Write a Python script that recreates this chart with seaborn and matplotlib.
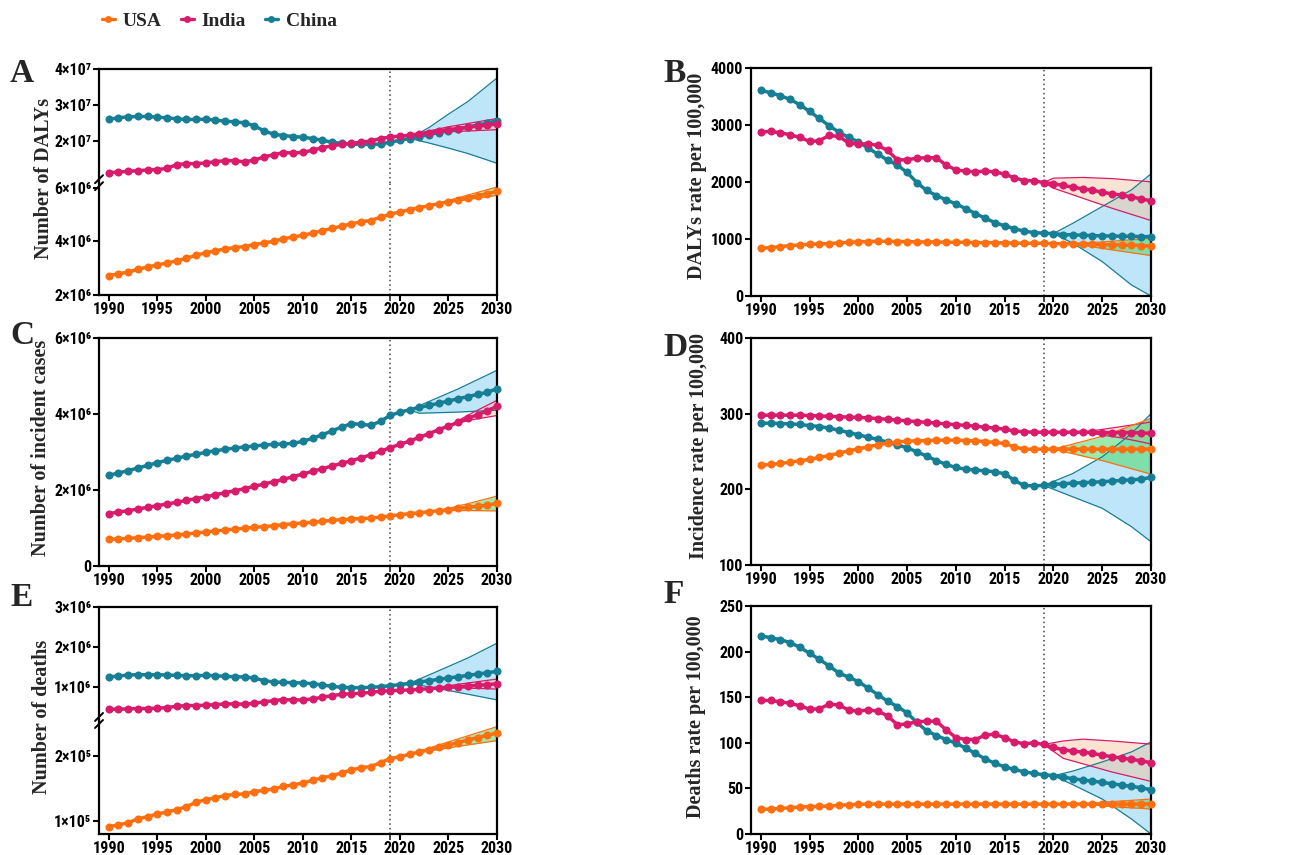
import numpy as np
import pandas as pd
import matplotlib
matplotlib.use("Agg")
import matplotlib.pyplot as plt
import matplotlib.font_manager as fm
import seaborn as sns
from matplotlib.lines import Line2D

sns.set_style("ticks")

_avail = {f.name for f in fm.fontManager.ttflist}
TICKFONT, TICKSIZE = "Liberation Sans", 10.5
for _cand in ["Liberation Sans Narrow", "Arial Narrow", "Roboto Condensed", "Open Sans Condensed"]:
    if _cand in _avail:
        TICKFONT, TICKSIZE = _cand, 11.5
        break
plt.rcParams["font.family"] = [TICKFONT, "Liberation Sans", "DejaVu Sans"]
plt.rcParams["font.weight"] = "bold"

SERIF = ["Liberation Serif", "DejaVu Serif"]

years = list(range(1990, 2031))
order = ["China", "India", "USA"]
legend_order = ["USA", "India", "China"]
colors = {"USA": "#FF6F0F", "India": "#D81B6A", "China": "#167E95"}
band_fill = {"USA": "#4CD96A", "India": "#F6C29C", "China": "#7FCFF2"}
band_alpha = {"USA": 0.55, "India": 0.45, "China": 0.5}

# ---------------- A: Number of DALYs ----------------
A_usa = [2.724, 2.785, 2.859, 2.957, 3.043, 3.117, 3.190, 3.276, 3.362, 3.485,
         3.571, 3.644, 3.718, 3.767, 3.804, 3.877, 3.939, 4.000, 4.098, 4.160,
         4.221, 4.307, 4.393, 4.479, 4.564, 4.650, 4.724, 4.773, 4.896, 5.006,
         5.092, 5.178, 5.252, 5.325, 5.399, 5.472, 5.546, 5.620, 5.693, 5.767, 5.865]  # x1e6
A_india = [1.130, 1.148, 1.167, 1.185, 1.204, 1.213, 1.250, 1.352, 1.380, 1.380,
           1.398, 1.435, 1.463, 1.463, 1.426, 1.481, 1.565, 1.630, 1.685, 1.676,
           1.694, 1.750, 1.824, 1.870, 1.917, 1.944, 1.972, 2.009, 2.074, 2.120,
           2.139, 2.167, 2.204, 2.241, 2.287, 2.324, 2.352, 2.389, 2.417, 2.444, 2.481]  # x1e7
A_china = [2.611, 2.648, 2.676, 2.685, 2.685, 2.667, 2.648, 2.620, 2.602, 2.602,
           2.611, 2.583, 2.556, 2.537, 2.509, 2.426, 2.287, 2.194, 2.157, 2.130,
           2.111, 2.074, 2.028, 1.972, 1.944, 1.917, 1.917, 1.907, 1.926, 1.972,
           2.028, 2.074, 2.130, 2.185, 2.241, 2.287, 2.333, 2.398, 2.444, 2.500, 2.574]  # x1e7
A_band = {
    "China": ([2021, 2023, 2025, 2027, 2030], [2.08e7, 1.95e7, 1.81e7, 1.66e7, 1.39e7],
              [2.08e7, 2.38e7, 2.75e7, 3.10e7, 3.75e7]),
    "India": ([2021, 2025, 2030], [2.17e7, 2.26e7, 2.32e7], [2.17e7, 2.40e7, 2.63e7]),
    "USA": ([2023, 2026, 2030], [5.33e6, 5.50e6, 5.71e6], [5.33e6, 5.62e6, 6.02e6]),
}

# ---------------- B: DALYs rate ----------------
B_china = [3608, 3567, 3514, 3449, 3356, 3239, 3116, 2987, 2876, 2782,
           2706, 2594, 2489, 2384, 2296, 2167, 1991, 1851, 1763, 1687,
           1616, 1534, 1447, 1365, 1288, 1230, 1183, 1136, 1113, 1101,
           1095, 1078, 1072, 1066, 1060, 1054, 1054, 1048, 1048, 1042, 1042]
B_india = [2876, 2887, 2864, 2829, 2782, 2712, 2723, 2817, 2799, 2688,
           2665, 2671, 2641, 2553, 2389, 2389, 2419, 2425, 2425, 2296,
           2214, 2190, 2179, 2190, 2179, 2138, 2073, 2026, 2020, 1991,
           1968, 1939, 1909, 1880, 1857, 1821, 1792, 1769, 1739, 1704, 1669]
B_usa = [837, 849, 867, 884, 896, 908, 914, 919, 931, 943,
         949, 955, 960, 960, 955, 955, 949, 949, 949, 943,
         943, 943, 937, 937, 937, 931, 931, 925, 925, 925,
         919, 919, 914, 908, 908, 902, 896, 896, 890, 884, 878]
B_band = {
    "China": ([2020, 2022, 2025, 2028, 2030], [1095, 925, 603, 193, 0], [1095, 1277, 1570, 1862, 2143]),
    "India": ([2019, 2020, 2023, 2026, 2030], [1991, 1892, 1716, 1540, 1324], [1991, 2067, 2080, 2060, 2003]),
    "USA": ([2022, 2026, 2030], [914, 810, 709], [914, 960, 1013]),
}

# ---------------- C: Number of incident cases ----------------
C_china = [2.386, 2.447, 2.509, 2.579, 2.649, 2.719, 2.781, 2.833, 2.895, 2.939,
           2.991, 3.035, 3.070, 3.105, 3.132, 3.158, 3.184, 3.202, 3.211, 3.228,
           3.281, 3.360, 3.456, 3.553, 3.658, 3.746, 3.728, 3.702, 3.807, 3.965,
           4.044, 4.114, 4.175, 4.228, 4.281, 4.342, 4.404, 4.456, 4.518, 4.570, 4.667]
C_india = [1.377, 1.421, 1.456, 1.500, 1.544, 1.588, 1.632, 1.675, 1.728, 1.772,
           1.825, 1.877, 1.930, 1.982, 2.035, 2.096, 2.158, 2.219, 2.281, 2.351,
           2.421, 2.491, 2.561, 2.632, 2.702, 2.772, 2.842, 2.930, 3.018, 3.114,
           3.202, 3.289, 3.386, 3.482, 3.588, 3.684, 3.781, 3.886, 3.982, 4.088, 4.202]
C_usa = [0.702, 0.711, 0.728, 0.746, 0.763, 0.781, 0.798, 0.816, 0.842, 0.868,
         0.895, 0.921, 0.947, 0.974, 0.991, 1.018, 1.035, 1.061, 1.088, 1.114,
         1.132, 1.149, 1.175, 1.202, 1.219, 1.237, 1.246, 1.263, 1.289, 1.316,
         1.351, 1.377, 1.404, 1.430, 1.456, 1.482, 1.518, 1.544, 1.570, 1.605, 1.649]  # x1e6
C_band = {
    "China": ([2021, 2022, 2026, 2030], [4.11e6, 4.02e6, 4.05e6, 4.10e6], [4.11e6, 4.22e6, 4.66e6, 5.15e6]),
    "India": ([2025, 2027, 2030], [3.68e6, 3.83e6, 3.96e6], [3.68e6, 3.97e6, 4.36e6]),
    "USA": ([2024, 2027, 2030], [1.456e6, 1.46e6, 1.45e6], [1.456e6, 1.64e6, 1.84e6]),
}

# ---------------- D: Incidence rate ----------------
D_india = [298, 298, 298, 298, 298, 297.5, 297, 296.5, 296, 295.5,
           295, 294.5, 293.5, 292.5, 291.5, 290.5, 289.5, 288.5, 287.5, 286.5,
           285.5, 284.5, 283.5, 282, 281, 279.5, 277, 276, 275.5, 275.5,
           275.5, 275.5, 275.5, 275.5, 275.5, 275, 275, 275, 275, 274.5, 274]
D_china = [287.4, 287.4, 287.0, 286.5, 285.7, 284.3, 283.0, 280.8, 278.2, 275.1,
           272.0, 268.9, 265.9, 262.3, 258.8, 254.9, 249.6, 243.9, 238.1, 232.9,
           228.9, 226.7, 225.4, 224.5, 223.2, 220.5, 211.7, 205.1, 204.7, 205.1,
           206.5, 207.3, 208.2, 208.7, 209.5, 210.0, 210.9, 211.7, 212.6, 213.5, 215.7]
D_usa = [232.0, 232.9, 234.2, 235.9, 237.7, 239.5, 242.1, 244.7, 247.8, 250.9,
         253.5, 256.2, 258.8, 261.0, 262.8, 263.7, 264.1, 264.5, 265.0, 265.0,
         265.0, 264.5, 264.1, 263.2, 261.9, 260.6, 256.2, 253.1, 253.1, 253.1,
         253.1, 253.1, 253.1, 253.1, 253.1, 253.1, 253.1, 253.1, 253.1, 253.1, 253.1]
D_band = {
    "China": ([2019, 2022, 2025, 2028, 2030], [205.1, 190, 175, 150.6, 130.8], [205.1, 221, 243, 273.8, 300]),
    "India": ([2023, 2027, 2030], [275.5, 268, 260], [275.5, 283, 289]),
    "USA": ([2020, 2025, 2030], [253.1, 238, 220.1], [253.1, 270, 293.6]),
}

# ---------------- E: Number of deaths ----------------
E_china = [1.242, 1.267, 1.292, 1.300, 1.300, 1.300, 1.292, 1.283, 1.275, 1.275,
           1.283, 1.275, 1.258, 1.250, 1.242, 1.217, 1.150, 1.117, 1.108, 1.100,
           1.092, 1.075, 1.042, 1.008, 0.983, 0.975, 0.975, 0.983, 1.000, 1.025,
           1.050, 1.083, 1.117, 1.150, 1.183, 1.217, 1.250, 1.283, 1.317, 1.350, 1.383]  # x1e6
E_india = [0.433, 0.433, 0.442, 0.450, 0.450, 0.458, 0.475, 0.508, 0.525, 0.525,
           0.533, 0.550, 0.567, 0.567, 0.558, 0.583, 0.617, 0.650, 0.675, 0.667,
           0.667, 0.692, 0.733, 0.775, 0.808, 0.825, 0.833, 0.858, 0.883, 0.900,
           0.908, 0.917, 0.933, 0.950, 0.967, 0.983, 1.000, 1.017, 1.033, 1.050, 1.075]  # x1e6
E_usa = [0.918, 0.944, 0.979, 1.036, 1.072, 1.113, 1.144, 1.179, 1.226, 1.292,
         1.333, 1.364, 1.395, 1.415, 1.421, 1.456, 1.477, 1.497, 1.538, 1.559,
         1.590, 1.631, 1.667, 1.703, 1.744, 1.790, 1.826, 1.841, 1.903, 1.964,
         1.995, 2.031, 2.067, 2.103, 2.138, 2.174, 2.210, 2.251, 2.287, 2.323, 2.359]  # x1e5
E_band = {
    "China": ([2021, 2024, 2027, 2030], [1.083e6, 0.95e6, 0.81e6, 0.667e6], [1.083e6, 1.40e6, 1.72e6, 2.09e6]),
    "India": ([2023, 2026, 2030], [0.95e6, 0.97e6, 0.94e6], [0.95e6, 1.06e6, 1.19e6]),
    "USA": ([2021, 2025, 2030], [2.031e5, 2.13e5, 2.241e5], [2.031e5, 2.22e5, 2.456e5]),
}

# ---------------- F: Deaths rate ----------------
F_china = [217.2, 215.3, 213.1, 209.9, 204.7, 198.2, 191.6, 184.3, 176.6, 171.9,
           167.2, 159.9, 152.9, 145.6, 139.8, 132.8, 122.3, 113.1, 108.0, 103.6,
           99.6, 94.2, 88.3, 82.5, 77.4, 73.7, 70.8, 68.2, 66.4, 65.0,
           63.9, 62.4, 60.6, 59.1, 58.0, 56.6, 55.1, 53.6, 52.2, 50.7, 48.5]
F_india = [146.4, 146.4, 144.9, 143.4, 140.5, 136.9, 137.2, 142.3, 141.6, 135.8,
           134.7, 136.1, 134.7, 129.6, 119.7, 120.8, 123.0, 123.7, 123.7, 114.2,
           105.8, 103.6, 103.6, 108.4, 109.5, 105.5, 101.1, 98.9, 100.0, 98.2,
           94.9, 92.3, 90.9, 89.8, 88.3, 86.5, 84.7, 83.2, 81.8, 80.3, 78.1]
F_usa = [27.0, 27.4, 28.1, 28.8, 29.6, 29.9, 30.3, 30.7, 31.4, 32.1,
         32.5, 32.8, 32.8, 32.8, 32.8, 32.8, 32.8, 32.8, 32.8, 32.8,
         32.8, 32.8, 32.8, 32.8, 32.8, 32.8, 32.8, 32.8, 32.8, 32.8,
         32.8, 32.8, 32.8, 32.8, 32.8, 32.8, 32.8, 32.8, 32.8, 32.8, 32.8]
F_band = {
    "China": ([2020, 2022, 2025, 2028, 2030], [63.9, 54, 38.3, 16.4, 0], [63.9, 69, 79, 90, 101]),
    "India": ([2019, 2021, 2023, 2026, 2030], [98.2, 83, 77, 68, 57.7], [98.2, 102, 104, 102, 98.5]),
    "USA": ([2023, 2026, 2030], [32.8, 30.0, 27.4], [32.8, 35.5, 38.3]),
}

x_ticks = [1990, 1995, 2000, 2005, 2010, 2015, 2020, 2025, 2030]
observed_end = 2019

# ---------------- helpers ----------------
W, H = 1301, 855
fig = plt.figure(figsize=(W / 100, H / 100), dpi=100)


def rect(l, r, t, b):
    return [l / W, 1 - b / H, (r - l) / W, (b - t) / H]


def make_df(usa, india, china, su=1.0, si=1.0, sc=1.0):
    rows = []
    for name, vals, s in (("USA", usa, su), ("India", india, si), ("China", china, sc)):
        for y, v in zip(years, vals):
            rows.append({"Year": y, "Value": v * s, "Country": name})
    return pd.DataFrame(rows)


def style_ax(ax, xlabels=True):
    ax.set_xlim(1989, 2030)
    ax.set_xticks(x_ticks)
    ax.set_xticks([observed_end], minor=True)
    for s in ax.spines.values():
        s.set_linewidth(1.6)
        s.set_color("black")
    ax.tick_params(axis="both", which="major", direction="out", length=4.5, width=1.5,
                   labelsize=TICKSIZE, colors="black", pad=1.0)
    ax.tick_params(axis="x", which="major", pad=0.5)
    ax.tick_params(axis="x", which="minor", direction="out", length=4.5, width=1.2)
    if not xlabels:
        ax.tick_params(axis="x", which="both", bottom=False, labelbottom=False)
    for lab in ax.get_xticklabels() + ax.get_yticklabels():
        lab.set_fontweight("bold")
    ax.set_xlabel("")
    ax.set_ylabel("")
    ax.axvline(observed_end, color="#444444", ls=(0, (1, 2)), lw=1.1, zorder=2)


def draw(ax, df, bands, names):
    for n in order:
        if n in names and n in bands:
            by, lo, hi = bands[n]
            ax.fill_between(by, lo, hi, color=band_fill[n], alpha=band_alpha[n], lw=0, zorder=1)
            ax.plot(by, lo, color=colors[n], lw=0.9, zorder=1.5)
            ax.plot(by, hi, color=colors[n], lw=0.9, zorder=1.5)
    sub = df[df["Country"].isin(names)]
    hue_order = [n for n in order if n in names]
    sns.lineplot(data=sub, x="Year", y="Value", hue="Country", hue_order=hue_order,
                 palette=colors, marker="o", markersize=5.8, markeredgewidth=0,
                 linewidth=2.5, errorbar=None, legend=False, ax=ax, clip_on=False, zorder=3)


def set_yticks(ax, ticks, labels, lim):
    ax.set_ylim(*lim)
    ax.set_yticks(ticks)
    ax.set_yticklabels(labels, fontweight="bold")


def break_marks(xpx, ypx):
    for dy in (-3.5, 3.5):
        x0, x1 = (xpx - 4) / W, (xpx + 4) / W
        y0, y1 = 1 - (ypx + dy + 4) / H, 1 - (ypx + dy - 4) / H
        fig.add_artist(Line2D([x0, x1], [y0, y1], color="black", lw=1.4,
                              transform=fig.transFigure))


def ylabel(text, xpx, ypx):
    fig.text(xpx / W, 1 - ypx / H, text, rotation=90, ha="center", va="center",
             fontsize=14.5, fontweight="bold", family=SERIF)


def letter(text, xpx, ypx):
    fig.text(xpx / W, 1 - ypx / H, text, ha="left", va="center",
             fontsize=24, fontweight="bold", family=SERIF)


# ---------------- Panel A ----------------
dfA = make_df(A_usa, A_india, A_china, 1e6, 1e7, 1e7)
axA_up = fig.add_axes(rect(99, 497, 69, 182.7))
axA_lo = fig.add_axes(rect(99, 497, 182.7, 295))
draw(axA_up, dfA, A_band, ["China", "India"])
draw(axA_lo, dfA, A_band, ["USA"])
style_ax(axA_up, xlabels=False)
style_ax(axA_lo)
set_yticks(axA_up, [2e7, 3e7, 4e7], ["2×10⁷", "3×10⁷", "4×10⁷"], (0.852e7, 4e7))
set_yticks(axA_lo, [2e6, 4e6, 6e6], ["2×10⁶", "4×10⁶", "6×10⁶"], (2e6, 6.18e6))
axA_up.spines["bottom"].set_visible(False)
axA_lo.spines["top"].set_visible(False)
break_marks(99, 182.7)

# ---------------- Panel B ----------------
dfB = make_df(B_usa, B_india, B_china)
axB = fig.add_axes(rect(751, 1151, 68, 296))
draw(axB, dfB, B_band, order)
style_ax(axB)
set_yticks(axB, [0, 1000, 2000, 3000, 4000], ["0", "1000", "2000", "3000", "4000"], (0, 4000))

# ---------------- Panel C ----------------
dfC = make_df(C_usa, C_india, C_china, 1e6, 1e6, 1e6)
axC = fig.add_axes(rect(99, 497, 338, 566))
draw(axC, dfC, C_band, order)
style_ax(axC)
set_yticks(axC, [0, 2e6, 4e6, 6e6], ["0", "2×10⁶", "4×10⁶", "6×10⁶"], (0, 6e6))

# ---------------- Panel D ----------------
dfD = make_df(D_usa, D_india, D_china)
axD = fig.add_axes(rect(751, 1151, 338, 565))
draw(axD, dfD, D_band, order)
style_ax(axD)
set_yticks(axD, [100, 200, 300, 400], ["100", "200", "300", "400"], (100, 400))

# ---------------- Panel E ----------------
dfE = make_df(E_usa, E_india, E_china, 1e5, 1e6, 1e6)
axE_up = fig.add_axes(rect(99, 497, 607, 720.5))
axE_lo = fig.add_axes(rect(99, 497, 720.5, 834))
draw(axE_up, dfE, E_band, ["China", "India"])
draw(axE_lo, dfE, E_band, ["USA"])
style_ax(axE_up, xlabels=False)
style_ax(axE_lo)
set_yticks(axE_up, [1e6, 2e6, 3e6], ["1×10⁶", "2×10⁶", "3×10⁶"], (0.15e6, 3e6))
set_yticks(axE_lo, [1e5, 2e5], ["1×10⁵", "2×10⁵"], (0.805e5, 2.55e5))
axE_up.spines["bottom"].set_visible(False)
axE_lo.spines["top"].set_visible(False)
break_marks(99, 720.5)

# ---------------- Panel F ----------------
dfF = make_df(F_usa, F_india, F_china)
axF = fig.add_axes(rect(751, 1151, 606, 834))
draw(axF, dfF, F_band, order)
style_ax(axF)
set_yticks(axF, [0, 50, 100, 150, 200, 250], ["0", "50", "100", "150", "200", "250"], (0, 250))

# ---------------- Labels ----------------
ylabel("Number of DALYs", 44, 178)
ylabel("DALYs rate per 100,000", 697, 176)
ylabel("Number of incident cases", 41, 448)
ylabel("Incidence rate per 100,000", 699, 446)
ylabel("Number of deaths", 42, 717)
ylabel("Deaths rate per 100,000", 696, 717)

letter("A", 10, 74)
letter("B", 663, 73)
letter("C", 10, 335)
letter("D", 663, 347)
letter("E", 10, 597)
letter("F", 663, 594)

handles = [Line2D([], [], color=colors[n], marker="o", markersize=5, markeredgewidth=0, lw=2.4)
           for n in legend_order]
fig.legend(handles, legend_order, loc="center left", bbox_to_anchor=(102 / W, 1 - 21 / H),
           ncol=3, frameon=False, handlelength=0.65, handletextpad=0.4, columnspacing=1.0,
           borderaxespad=0, borderpad=0,
           prop={"family": SERIF, "weight": "bold", "size": 14})

fig.savefig("out.png", dpi=100)
